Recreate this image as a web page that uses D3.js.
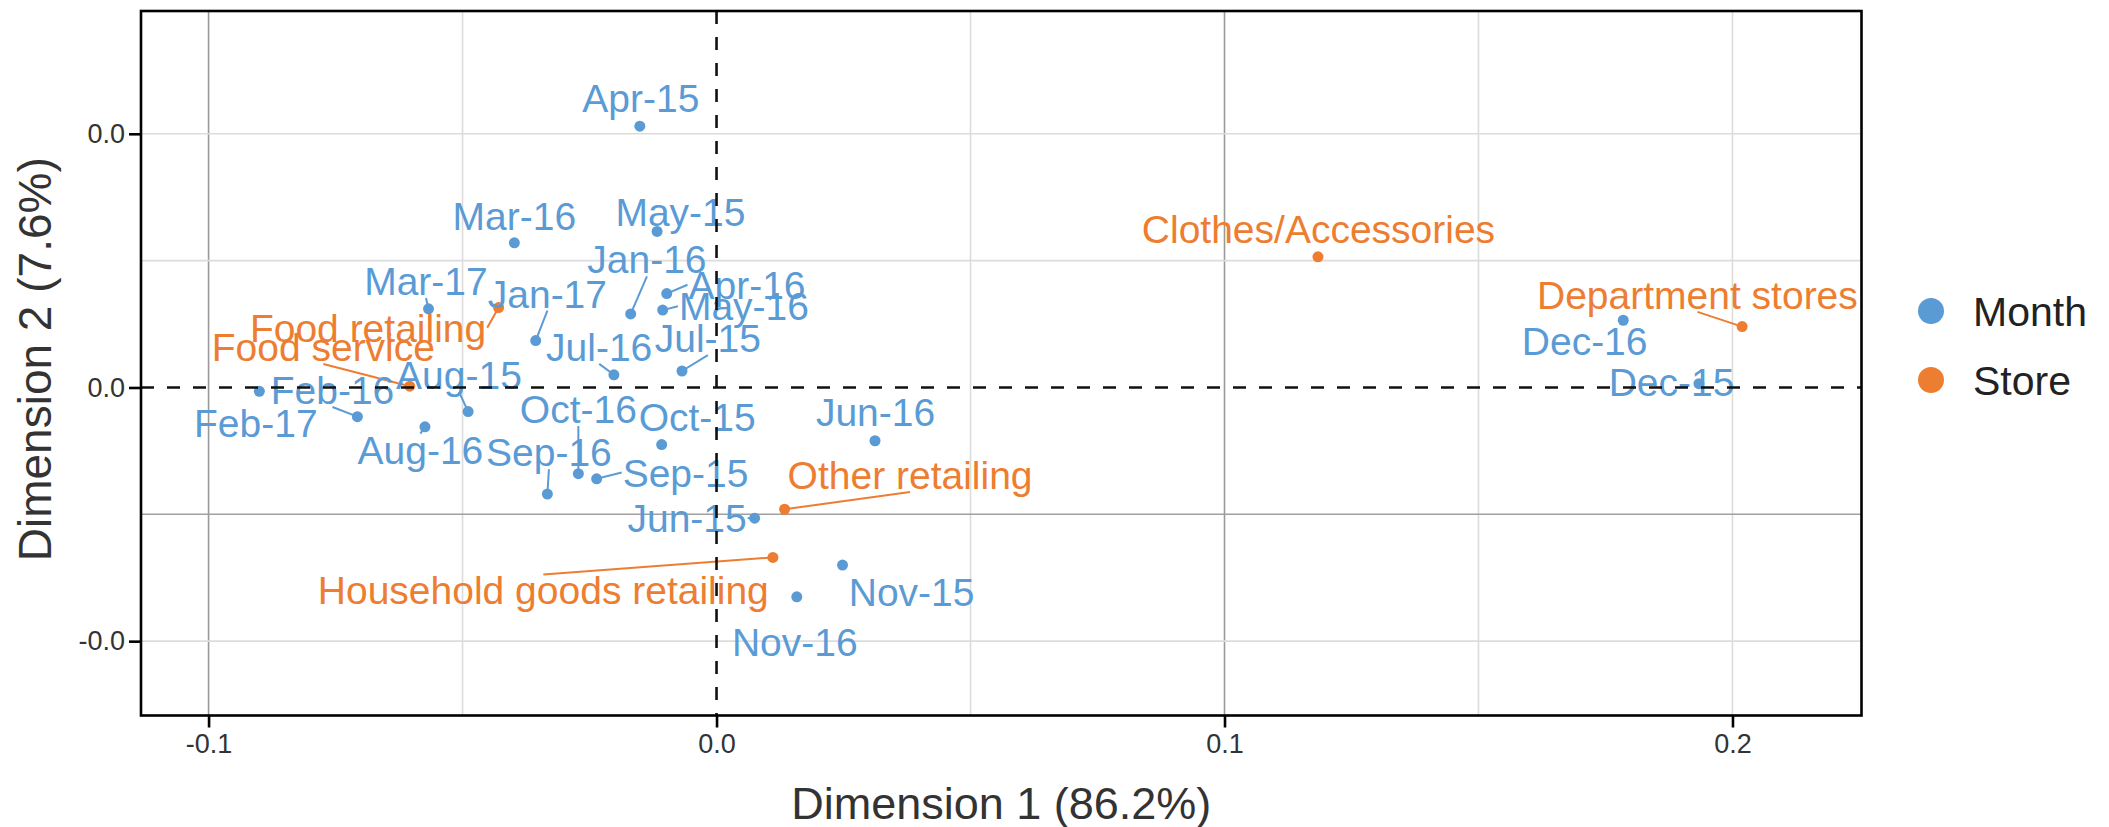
<!DOCTYPE html>
<html>
<head>
<meta charset="utf-8">
<script src="https://cdn.jsdelivr.net/npm/d3@7"></script>
<style>
  body { margin: 0; background: #fff; }
  text { font-family: "Liberation Sans", Arial, sans-serif; }
</style>
</head>
<body>
<svg width="2109" height="827"></svg>
<script>
var svg = d3.select("svg"),
    width = +svg.attr("width"),
    height = +svg.attr("height");

// months (rows of the CA)
var months = ["Apr-15","May-15","Jun-15","Jul-15","Aug-15","Sep-15","Oct-15","Nov-15","Dec-15",
              "Jan-16","Feb-16","Mar-16","Apr-16","May-16","Jun-16","Jul-16","Aug-16","Sep-16",
              "Oct-16","Nov-16","Dec-16","Jan-17","Feb-17","Mar-17"];
var monthDim1 = [-0.0151,-0.0117,0.0075,-0.0068,-0.0489,-0.0236,-0.0108,0.0248,0.1934,
                 -0.0169,-0.0707,-0.0398,-0.0098,-0.0106,0.0312,-0.0202,-0.0574,-0.0333,
                 -0.0272,0.0158,0.1785,-0.0356,-0.0900,-0.0567];
var monthDim2 = [0.0206,0.0123,-0.0103,0.0013,-0.0019,-0.0072,-0.0045,-0.0140,0.0003,
                 0.0058,-0.0023,0.0114,0.0074,0.0061,-0.0042,0.0010,-0.0031,-0.0084,
                 -0.0068,-0.0165,0.0053,0.0037,-0.0003,0.0062];
// where the repelled labels ended up (data units)
var monthLabDim1 = [-0.0149,-0.0071,-0.0058,-0.0017,-0.0507,-0.0061,-0.0038,0.0384,0.1880,
                    -0.0137,-0.0756,-0.0398,0.0060,0.0054,0.0313,-0.0231,-0.0583,-0.0330,
                    -0.0272,0.0154,0.1709,-0.0333,-0.0907,-0.0572];
var monthLabDim2 = [0.0228,0.0138,-0.0103,0.0039,0.0010,-0.0067,-0.0023,-0.0161,0.0004,
                    0.0101,-0.0002,0.0135,0.0081,0.0064,-0.0019,0.0032,-0.0049,-0.0051,
                    -0.0017,-0.0201,0.0037,0.0074,-0.0028,0.0084];
var monthLeader = [0,0,1,1,1,1,0,0,0,1,1,0,1,1,0,1,1,1,1,0,0,1,0,1];

// stores (columns of the CA)
var stores = ["Clothes/Accessories","Department stores","Food retailing","Food service",
              "Household goods retailing","Other retailing"];
var storeDim1 = [0.1184,0.2019,-0.0429,-0.0604,0.0111,0.0134];
var storeDim2 = [0.0103,0.0048,0.0063,0.0001,-0.0134,-0.0096];
var storeLabDim1 = [0.1185,0.1931,-0.0686,-0.0774,-0.0341,0.0381];
var storeLabDim2 = [0.0125,0.0073,0.0047,0.0032,-0.0160,-0.0069];
var storeLeader = [0,1,1,1,1,1];

var xTicks = [-0.1, 0.0, 0.1, 0.2];
var xTickLabels = ["-0.1","0.0","0.1","0.2"];
var xMinor = [-0.05, 0.05, 0.15];
var yTicks = [-0.02, 0.0, 0.02];
var yTickLabels = ["-0.0","0.0","0.0"];
var yMinor = [-0.01, 0.01];

var groups = ["Month","Store"];
var colors = { Month: "#5B9BD5", Store: "#ED7D31" };

var panel = { left: 141, right: 1861.5, top: 11, bottom: 715.5 };

var x = d3.scaleLinear().domain([-0.1133, 0.2254]).range([panel.left, panel.right]);
var y = d3.scaleLinear().domain([-0.02586, 0.02968]).range([panel.bottom, panel.top]);

var labelSize = 39;

// grid
var grid = svg.append("g");
var darkX = [-0.1, 0.1], darkY = [-0.01];
grid.selectAll(".gx").data(xTicks.concat(xMinor).filter(function(d) { return d !== 0; }))
  .enter().append("line")
  .attr("x1", function(d) { return x(d); }).attr("x2", function(d) { return x(d); })
  .attr("y1", panel.top).attr("y2", panel.bottom)
  .attr("stroke", function(d) { return darkX.indexOf(d) >= 0 ? "#9a9a9a" : "#dcdcdc"; })
  .attr("stroke-width", 1.6);
grid.selectAll(".gy").data(yTicks.concat(yMinor).filter(function(d) { return d !== 0; }))
  .enter().append("line")
  .attr("y1", function(d) { return y(d); }).attr("y2", function(d) { return y(d); })
  .attr("x1", panel.left).attr("x2", panel.right)
  .attr("stroke", function(d) { return darkY.indexOf(d) >= 0 ? "#a0a0a0" : "#dcdcdc"; })
  .attr("stroke-width", 1.6);

function build(names, d1, d2, l1, l2, lead, group) {
  return names.map(function(n, i) {
    return { name: n, x: d1[i], y: d2[i], lx: l1[i], ly: l2[i], lead: lead[i], group: group };
  });
}
var nodes = build(months, monthDim1, monthDim2, monthLabDim1, monthLabDim2, monthLeader, "Month")
  .concat(build(stores, storeDim1, storeDim2, storeLabDim1, storeLabDim2, storeLeader, "Store"));

var segLayer = svg.append("g");
var ptLayer = svg.append("g");
var txtLayer = svg.append("g");

ptLayer.selectAll("circle").data(nodes).enter().append("circle")
  .attr("cx", function(d) { return x(d.x); })
  .attr("cy", function(d) { return y(d.y); })
  .attr("r", 5.5)
  .attr("fill", function(d) { return colors[d.group]; });

var labels = txtLayer.selectAll("text").data(nodes).enter().append("text")
  .attr("x", function(d) { return x(d.lx); })
  .attr("y", function(d) { return y(d.ly); })
  .attr("dy", "0.36em")
  .attr("text-anchor", "middle")
  .attr("font-size", labelSize)
  .attr("fill", function(d) { return colors[d.group]; })
  .text(function(d) { return d.name; });

// leader segments: point -> nearest anchor of the label box
labels.each(function(d) {
  if (!d.lead) return;
  var bb = this.getBBox();
  var cx = x(d.lx), mid = y(d.ly), base = mid + 0.36 * labelSize;
  var top = base - 0.72 * labelSize - 2, bot = base + 3;
  var px = x(d.x), py = y(d.y), ex, ey;
  var beside = py >= top && py <= bot;
  if (px < bb.x && (beside || px < bb.x - 8)) { ex = bb.x - 1; ey = mid; }
  else if (px > bb.x + bb.width && (beside || px > bb.x + bb.width + 8)) { ex = bb.x + bb.width + 1; ey = mid; }
  else { ex = cx; ey = py < mid ? top : bot; }
  segLayer.append("line")
    .attr("x1", px).attr("y1", py).attr("x2", ex).attr("y2", ey)
    .attr("stroke", colors[d.group]).attr("stroke-width", 2);
});

// reference lines
svg.append("line")
  .attr("x1", x(0)).attr("x2", x(0)).attr("y1", panel.top).attr("y2", panel.bottom)
  .attr("stroke", "#111").attr("stroke-width", 2.6).attr("stroke-dasharray", "13,13");
svg.append("line")
  .attr("y1", y(0)).attr("y2", y(0)).attr("x1", panel.left).attr("x2", panel.right)
  .attr("stroke", "#111").attr("stroke-width", 2.6).attr("stroke-dasharray", "13,13");

// border
svg.append("rect")
  .attr("x", panel.left).attr("y", panel.top)
  .attr("width", panel.right - panel.left).attr("height", panel.bottom - panel.top)
  .attr("fill", "none").attr("stroke", "#000").attr("stroke-width", 2.6);

// axes
var xAxis = d3.axisBottom(x).tickValues(xTicks).tickSize(12).tickPadding(6)
  .tickFormat(function(d, i) { return xTickLabels[i]; });
var gx = svg.append("g").attr("transform", "translate(0," + panel.bottom + ")").call(xAxis);
var yAxis = d3.axisLeft(y).tickValues(yTicks).tickSize(12).tickPadding(4)
  .tickFormat(function(d, i) { return yTickLabels[i]; });
var gy = svg.append("g").attr("transform", "translate(" + panel.left + ",0)").call(yAxis);
[gx, gy].forEach(function(g) {
  g.select(".domain").remove();
  g.selectAll(".tick line").attr("stroke", "#000").attr("stroke-width", 2.6);
  g.selectAll(".tick text").attr("font-size", 27).attr("fill", "#333")
    .style("font-family", "'Liberation Sans', Arial, sans-serif");
});

svg.append("text")
  .attr("x", (panel.left + panel.right) / 2).attr("y", 819)
  .attr("text-anchor", "middle").attr("font-size", 45).attr("fill", "#333")
  .text("Dimension 1 (86.2%)");
svg.append("text")
  .attr("transform", "translate(51," + ((panel.top + panel.bottom) / 2 - 4) + ") rotate(-90)")
  .attr("text-anchor", "middle").attr("font-size", 46).attr("fill", "#333")
  .text("Dimension 2 (7.6%)");

// legend
var legend = svg.append("g");
var leg = legend.selectAll("g").data(groups).enter().append("g")
  .attr("transform", function(d, i) { return "translate(1931," + (311 + i * 69) + ")"; });
leg.append("circle").attr("r", 13).attr("fill", function(d) { return colors[d]; });
leg.append("text").attr("x", 42).attr("dy", "0.36em")
  .attr("font-size", 41).attr("fill", "#222")
  .text(function(d) { return d; });
</script>
</body>
</html>
